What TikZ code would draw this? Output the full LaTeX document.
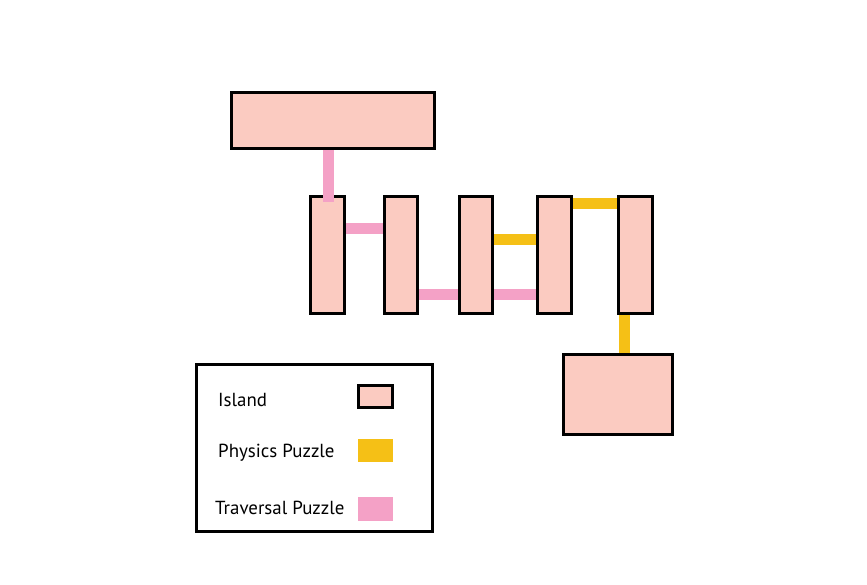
\documentclass[tikz,border=0pt]{standalone}
\usepackage{fontspec}
\setmainfont{PT Sans}
\definecolor{islandfill}{HTML}{FBCBC1}
\definecolor{physc}{HTML}{F5C016}
\definecolor{travc}{HTML}{F4A1C6}
\tikzset{
  island/.style={draw=black, line width=3pt, fill=islandfill, inner sep=0pt},
  bar/.style={island, minimum width=33.5pt, minimum height=117pt},
  trav/.style={draw=travc, line width=11pt},
  phys/.style={draw=physc, line width=11pt},
  swatch/.style={inner sep=0pt, minimum width=34.4pt},
  legtext/.style={anchor=base west, inner sep=0pt, font=\fontsize{18.9}{22}\selectfont}
}
\begin{document}
\begin{tikzpicture}[x=1pt,y=-1pt]
\useasboundingbox[fill=white] (0,0) rectangle (867,584);
% islands
\node[island, minimum width=203pt, minimum height=56pt] (top) at (333,120.5) {};
\node[bar] (b1) at (327.5,255) {};
\node[bar] (b2) at (401,255) {};
\node[bar] (b3) at (475.8,255) {};
\node[bar] (b4) at (554.7,255) {};
\node[bar] (b5) at (635.7,255) {};
\node[island, minimum width=109pt, minimum height=80.3pt] (bot) at (618.3,394.3) {};
% connectors
\draw[trav] ([xshift=0.5pt,yshift=-6.7pt]b1.north) -- ([xshift=0.5pt]b1.north |- top.south);
\draw[trav] (b1.east |- 0,228) -- (b2.west |- 0,228);
\draw[trav] (b2.east |- 0,294) -- (b3.west |- 0,294);
\draw[trav] (b3.east |- 0,294) -- (b4.west |- 0,294);
\draw[phys] (b3.east |- 0,239.5) -- (b4.west |- 0,239.5);
\draw[phys] (b4.east |- 0,203.3) -- (b5.west |- 0,203.3);
\draw[phys] (b5.south -| 624.5,0) -- (bot.north -| 624.5,0);
% legend
\node[draw=black, line width=3pt, inner sep=0pt, minimum width=236.3pt, minimum height=167pt] (legend) at (314.7,448.3) {};
\node[island, minimum width=34.3pt, minimum height=22pt] (swisland) at (375.3,396.8) {};
\node[swatch, fill=physc, minimum height=23.3pt] (swphys) at (375.5,450.7) {};
\node[swatch, fill=travc, minimum height=24pt] (swtrav) at (375.5,508.7) {};
\node[legtext] (lisland) at (218,406.7) {Island};
\node[legtext] (lphys) at (218,457.7) {Physics Puzzle};
\node[legtext] (ltrav) at (215,514.3) {Traversal Puzzle};
\end{tikzpicture}
\end{document}
